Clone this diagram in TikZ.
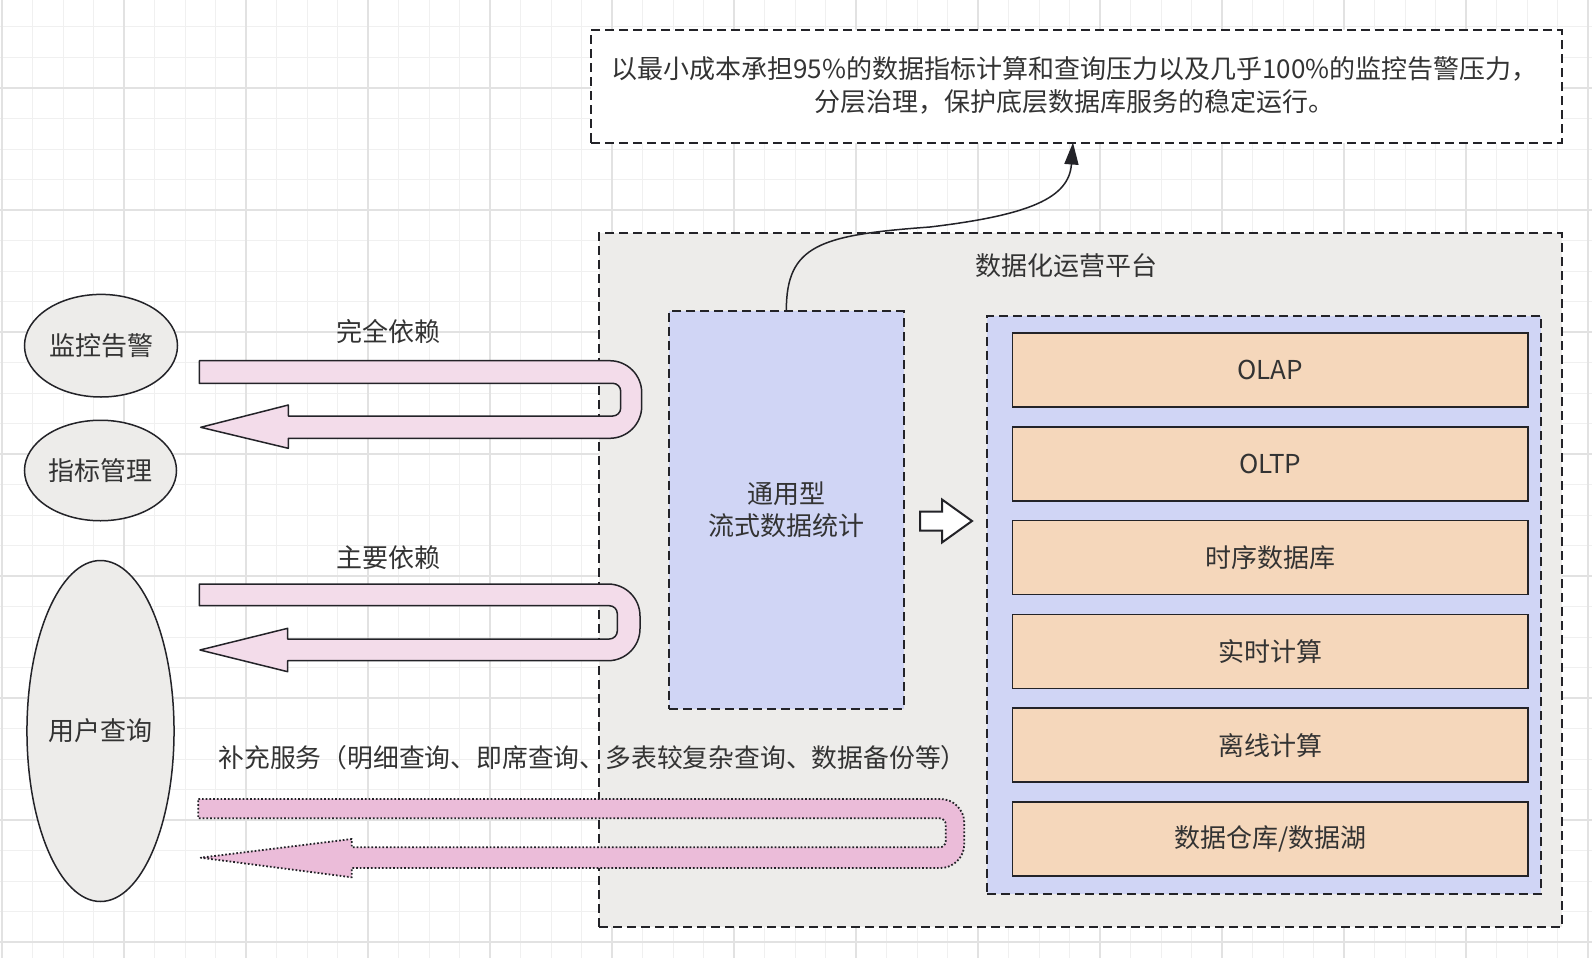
\documentclass[tikz,border=0pt]{standalone}
\usepackage{fontspec}
\setmainfont{Noto Sans CJK SC}
\usetikzlibrary{shapes.geometric,arrows.meta}
\definecolor{gridminor}{RGB}{240,240,240}
\definecolor{gridmajor}{RGB}{226,226,226}
\definecolor{platgray}{RGB}{237,236,234}
\definecolor{lavender}{RGB}{208,213,245}
\definecolor{orangebox}{RGB}{245,215,187}
\definecolor{pinklight}{RGB}{243,220,234}
\definecolor{pinkstrong}{RGB}{235,188,217}
\definecolor{darkline}{RGB}{35,35,40}
\definecolor{txt}{RGB}{51,51,51}
\begin{document}
\begin{tikzpicture}[x=1pt,y=-1pt,
  lbl/.style={font=\fontsize{26}{32.6}\selectfont, text=txt, align=center, inner sep=0pt},
  dashbox/.style={draw=darkline, line width=2pt, dash pattern=on 9pt off 5pt, inner sep=0pt, outer sep=0pt},
  layerbox/.style={draw=darkline, line width=1.6pt, fill=orangebox, minimum width=515.7pt, minimum height=74pt, inner sep=0pt, outer sep=0pt, lbl},
  usernode/.style={ellipse, draw=darkline, line width=1.5pt, fill=platgray, inner sep=0pt, outer sep=0pt, lbl},
  uarr/.style={draw=darkline, line width=1.5pt, fill=pinklight, line join=round},
  uarrdot/.style={draw=darkline, line width=1.8pt, fill=pinkstrong, dash pattern=on 1.7pt off 2pt, line join=round},
  fatarr/.style={draw=darkline, line width=2pt, fill=white, line join=miter},
  curvearr/.style={draw=darkline, line width=1.5pt, -{Triangle[length=22pt,width=14pt]}},
  minorg/.style={draw=gridminor, line width=1pt},
  majorg/.style={draw=gridmajor, line width=1.4pt}
]
\useasboundingbox (0,0) rectangle (1592,958);
\clip (0,0) rectangle (1592,958);
\fill[white] (0,0) rectangle (1592,958);
% grid
\foreach \k in {0,...,52} \draw[minorg] ({2+30.5*\k},0) -- ({2+30.5*\k},958);
\foreach \k in {0,...,32} \draw[minorg] (0,{-34+30.5*\k}) -- (1592,{-34+30.5*\k});
\foreach \k in {0,...,13} \draw[majorg] ({2+122*\k},0) -- ({2+122*\k},958);
\foreach \k in {0,...,8} \draw[majorg] (0,{-34+122*\k}) -- (1592,{-34+122*\k});

% top goal box
\node[dashbox, fill=white, minimum width=970.5pt, minimum height=112pt] (goal) at (1076.25,86.5) {};
\node[lbl] (goaltext) at (1074.5,85.5) {以最小成本承担95\%的数据指标计算和查询压力以及几乎100\%的监控告警压力，\\分层治理，保护底层数据库服务的稳定运行。};
\coordinate (goaltip) at (1073,142.5);

% platform
\node[dashbox, fill=platgray, minimum width=962.5pt, minimum height=694pt] (platform) at (1080.25,580) {};
\node[lbl] (plattitle) at (1066,266) {数据化运营平台};

% stream box
\node[dashbox, fill=lavender, minimum width=234.3pt, minimum height=397.5pt, lbl] (stream) at (786.35,509.75) {通用型\\流式数据统计};

% inner storage box
\node[dashbox, fill=lavender, minimum width=554.3pt, minimum height=578pt] (storage) at (1264.05,604.5) {};
\node[layerbox] (olap) at (1270.15,370) {OLAP};
\node[layerbox] (oltp) at (1270.15,463.8) {OLTP};
\node[layerbox] (tsdb) at (1270.15,557.6) {时序数据库};
\node[layerbox] (rt) at (1270.15,651.4) {实时计算};
\node[layerbox] (offline) at (1270.15,745.2) {离线计算};
\node[layerbox] (dw) at (1270.15,839) {数据仓库/数据湖};

% fat arrow between stream and storage
\draw[fatarr] (920,511.5) -- (942,511.5) -- (942,499.5) -- (972,521) -- (942,542.5) -- (942,530.5) -- (920,530.5) -- cycle;

% curved arrow to goal
\draw[curvearr] (stream.north) .. controls (786,245) and (820,235) .. (930,227) .. controls (1030,215) and (1069,198) .. (goaltip);

% users
\node[usernode, minimum width=153pt, minimum height=102.6pt] (monitor) at (101,345.7) {监控告警};
\node[usernode, minimum width=152pt, minimum height=100.5pt] (metric) at (100.5,470.5) {指标管理};
\node[usernode, minimum width=146pt, minimum height=341pt] (query) at (100.5,731) {用户查询};

% U-turn arrow 1
\draw[uarr] (199.3,360.7) -- (609.7,360.7) arc[start angle=90,end angle=0,radius=32pt] -- (641.7,406.3) arc[start angle=0,end angle=-90,radius=32pt] -- (288.3,438.3) -- (288.3,448.3) -- (200.7,427.3) -- (288.3,405) -- (288.3,416) -- (612.7,416) arc[start angle=-90,end angle=0,radius=8pt] -- (620.7,391.3) arc[start angle=0,end angle=90,radius=8pt] -- (199.3,383.3) -- cycle;
\node[lbl] (lbl1) at (388,332) {完全依赖};

% U-turn arrow 2
\draw[uarr] (199.3,584) -- (608,584) arc[start angle=90,end angle=0,radius=32pt] -- (640,628.7) arc[start angle=0,end angle=-90,radius=32pt] -- (287.7,660.7) -- (287.7,671.7) -- (200,650) -- (287.7,628.3) -- (287.7,639) -- (609.3,639) arc[start angle=-90,end angle=0,radius=8pt] -- (617.3,613.7) arc[start angle=0,end angle=90,radius=8pt] -- (199.3,605.7) -- cycle;
\node[lbl] (lbl2) at (388,557.4) {主要依赖};

% U-turn arrow 3 (dotted)
\draw[uarrdot] (198.3,799) -- (940.3,799) arc[start angle=90,end angle=0,radius=24pt] -- (964.3,844) arc[start angle=0,end angle=-90,radius=24pt] -- (351.7,868) -- (351.7,877.3) -- (200.7,857.7) -- (351.7,839) -- (351.7,847.3) -- (939.7,847.3) arc[start angle=-90,end angle=0,radius=6pt] -- (945.7,824.3) arc[start angle=0,end angle=90,radius=6pt] -- (198.3,818.3) -- cycle;
\node[lbl, font=\fontsize{25.8}{32}\selectfont] (lbl3) at (592.5,757.4) {补充服务（明细查询、即席查询、多表较复杂查询、数据备份等）};
\end{tikzpicture}
\end{document}
